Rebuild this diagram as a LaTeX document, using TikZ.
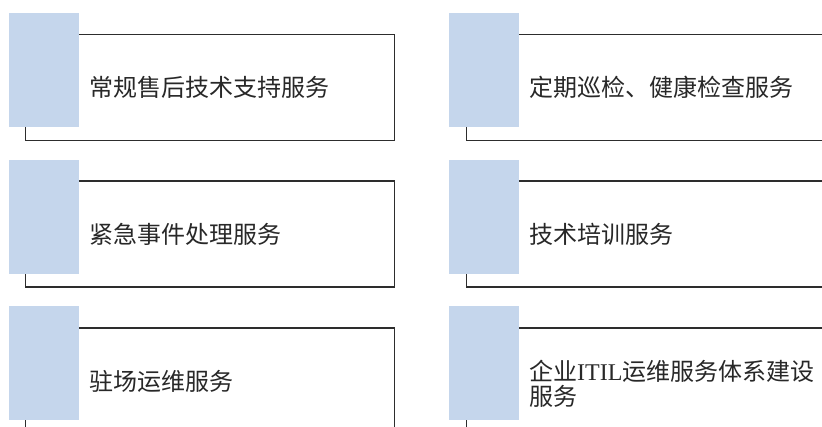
\documentclass[tikz,border=0pt]{standalone}
\usepackage{fontspec}
\newfontfamily\cjk{Noto Sans CJK SC}
\newfontfamily\latinserif{Liberation Serif}
\definecolor{tabblue}{RGB}{197,214,236}
\definecolor{framegray}{RGB}{45,45,45}
\definecolor{textgray}{RGB}{40,40,40}
\begin{document}
\begin{tikzpicture}[x=1pt,y=-1pt,
  framebox/.style={draw=framegray,line width=1.4pt,fill=white,minimum width=369pt,minimum height=106pt,inner sep=0pt,anchor=north west},
  tab/.style={fill=tabblue,minimum width=70pt,minimum height=114pt,inner sep=0pt,anchor=north west},
  label/.style={anchor=west,inner sep=0pt,text=textgray,font=\cjk\fontsize{24}{25}\selectfont,align=left}]
\useasboundingbox (0,0) rectangle (822,427);
\clip (0,0) rectangle (822,427);
% left column
\node[framebox] (b1) at (25,34) {};
\node[tab] (t1) at (9,13) {};
\node[label] (l1) at (89,87) {常规售后技术支持服务};
\node[framebox] (b2) at (25,180.5) {};
\node[tab] (t2) at (9,159.5) {};
\node[label] (l2) at (89,234) {紧急事件处理服务};
\node[framebox] (b3) at (25,327.5) {};
\node[tab] (t3) at (9,306) {};
\node[label] (l3) at (89,381) {驻场运维服务};
% right column
\node[framebox] (b4) at (466,34) {};
\node[tab] (t4) at (449,13) {};
\node[label] (l4) at (529,87) {定期巡检、健康检查服务};
\node[framebox] (b5) at (466,180.5) {};
\node[tab] (t5) at (449,159.5) {};
\node[label] (l5) at (529,234) {技术培训服务};
\node[framebox] (b6) at (466,327.5) {};
\node[tab] (t6) at (449,306) {};
\node[label] (l6) at (529,384) {企业{\latinserif ITIL}运维服务体系建设\\服务};
\end{tikzpicture}
\end{document}
